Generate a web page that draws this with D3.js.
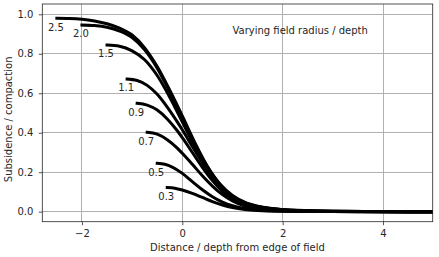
<!DOCTYPE html>
<html>
<head>
<meta charset="utf-8">
<script src="https://cdn.jsdelivr.net/npm/d3@7"></script>
<style>
  body { margin: 0; background: #fff; }
  svg text { font-family: "DejaVu Sans", sans-serif; fill: #262626; }
</style>
</head>
<body>
<svg id="chart"></svg>
<script>
const width = 439;
const height = 257;
const margin = { top: 4, right: 6.3, bottom: 35.3, left: 42.3 };
const innerW = width - margin.left - margin.right;
const innerH = height - margin.top - margin.bottom;

// Field radius / depth of each curve, and the label drawn next to it.
const radii = [2.5, 2.0, 1.5, 1.1, 0.9, 0.7, 0.5, 0.3];
const radiusLabels = ["2.5", "2.0", "1.5", "1.1", "0.9", "0.7", "0.5", "0.3"];

// Subsidence / compaction profiles, [distance / depth, value].
const curve25 = [[-2.5, 0.980], [-2.25, 0.979], [-2.0, 0.975], [-1.75, 0.966], [-1.5, 0.952], [-1.25, 0.93], [-1.0, 0.895], [-0.75, 0.83], [-0.5, 0.735], [-0.25, 0.615], [0, 0.485], [0.25, 0.35], [0.5, 0.23], [0.75, 0.14], [1.0, 0.082], [1.25, 0.047], [1.5, 0.028], [1.75, 0.017], [2.0, 0.011], [2.5, 0.005], [3.0, 0.002], [4.0, 0.0005], [5.0, 0.0002]];
const curve20 = [[-2.0, 0.946], [-1.75, 0.943], [-1.5, 0.934], [-1.25, 0.915], [-1.0, 0.882], [-0.75, 0.82], [-0.5, 0.727], [-0.25, 0.607], [0, 0.478], [0.25, 0.345], [0.5, 0.227], [0.75, 0.138], [1.0, 0.08], [1.25, 0.046], [1.5, 0.027], [1.75, 0.016], [2.0, 0.01], [2.5, 0.0045], [3.0, 0.002], [4.0, 0.0005], [5.0, 0.0002]];
const curve15 = [[-1.5, 0.844], [-1.25, 0.838], [-1.0, 0.815], [-0.75, 0.77], [-0.5, 0.69], [-0.25, 0.58], [0, 0.455], [0.25, 0.33], [0.5, 0.218], [0.75, 0.132], [1.0, 0.076], [1.25, 0.043], [1.5, 0.025], [1.75, 0.015], [2.0, 0.009], [2.5, 0.004], [3.0, 0.0018], [4.0, 0.0005], [5.0, 0.0002]];
const curve11 = [[-1.1, 0.672], [-0.9, 0.665], [-0.7, 0.64], [-0.5, 0.595], [-0.3, 0.53], [-0.1, 0.455], [0, 0.415], [0.2, 0.33], [0.4, 0.248], [0.6, 0.172], [0.8, 0.112], [1.0, 0.069], [1.25, 0.037], [1.5, 0.02], [1.75, 0.012], [2.0, 0.007], [2.5, 0.003], [3.0, 0.0013], [4.0, 0.0004], [5.0, 0.0001]];
const curve09 = [[-0.9, 0.549], [-0.7, 0.54], [-0.5, 0.515], [-0.3, 0.47], [-0.1, 0.41], [0, 0.375], [0.2, 0.30], [0.4, 0.225], [0.6, 0.158], [0.8, 0.104], [1.0, 0.064], [1.25, 0.034], [1.5, 0.018], [1.75, 0.011], [2.0, 0.006], [2.5, 0.0027], [3.0, 0.0012], [4.0, 0.0003], [5.0, 0.0001]];
const curve07 = [[-0.7, 0.402], [-0.5, 0.393], [-0.3, 0.365], [-0.1, 0.322], [0, 0.296], [0.2, 0.24], [0.4, 0.182], [0.6, 0.13], [0.8, 0.087], [1.0, 0.055], [1.25, 0.029], [1.5, 0.016], [1.75, 0.009], [2.0, 0.005], [2.5, 0.0022], [3.0, 0.001], [4.0, 0.0003], [5.0, 0.0001]];
const curve05 = [[-0.5, 0.245], [-0.35, 0.24], [-0.2, 0.226], [0, 0.194], [0.2, 0.152], [0.4, 0.111], [0.6, 0.076], [0.8, 0.049], [1.0, 0.03], [1.25, 0.016], [1.5, 0.009], [1.75, 0.005], [2.0, 0.003], [2.5, 0.0014], [3.0, 0.0007], [4.0, 0.0002], [5.0, 0.0001]];
const curve03 = [[-0.3, 0.122], [-0.15, 0.119], [0, 0.110], [0.2, 0.093], [0.4, 0.072], [0.6, 0.051], [0.8, 0.034], [1.0, 0.021], [1.25, 0.011], [1.5, 0.006], [1.75, 0.0035], [2.0, 0.002], [2.5, 0.001], [3.0, 0.0005], [4.0, 0.0001], [5.0, 0.0001]];
const curves = [curve25, curve20, curve15, curve11, curve09, curve07, curve05, curve03];

const xTicks = [-2, 0, 2, 4];
const yTicks = [0.0, 0.2, 0.4, 0.6, 0.8, 1.0];
const xLabel = "Distance / depth from edge of field";
const yLabel = "Subsidence / compaction";
const note = "Varying field radius / depth";

const svg = d3.select("#chart").attr("width", width).attr("height", height);

const x = d3
  .scaleLinear()
  .domain([-2.79, 4.99])
  .range([margin.left, width - margin.right]);
const y = d3
  .scaleLinear()
  .domain([-0.0507, 1.0522])
  .range([height - margin.bottom, margin.top]);

// Grid drawn as 1px filled rects on whole pixels.
const grid = svg.append("g").attr("fill", "#b0b0b0");
grid
  .selectAll("rect.gx")
  .data(xTicks)
  .join("rect")
  .attr("class", "gx")
  .attr("x", d => Math.floor(x(d)))
  .attr("y", Math.round(margin.top))
  .attr("width", 1)
  .attr("height", Math.round(innerH));
grid
  .selectAll("rect.gy")
  .data(yTicks)
  .join("rect")
  .attr("class", "gy")
  .attr("x", Math.round(margin.left))
  .attr("y", d => Math.floor(y(d)))
  .attr("width", Math.round(innerW))
  .attr("height", 1);

// Axes, matplotlib style: short outward ticks.
const xAxis = svg
  .append("g")
  .attr("transform", `translate(0, ${height - margin.bottom})`)
  .call(d3.axisBottom(x).tickValues(xTicks).tickFormat(d => (d < 0 ? "\u2212" + -d : d)).tickSize(3.5).tickPadding(4.5));
const yAxis = svg
  .append("g")
  .attr("transform", `translate(${margin.left}, 0)`)
  .call(d3.axisLeft(y).tickValues(yTicks).tickFormat(d3.format(".1f")).tickSize(3.5).tickPadding(5.5));
[xAxis, yAxis].forEach(a => {
  a.select(".domain").remove();
  a.selectAll("text").attr("font-size", 10).attr("fill", "#262626");
  a.selectAll("line").attr("stroke", "#262626").attr("stroke-width", 0.8);
});

// Curves, clipped to the plot area.
svg
  .append("clipPath")
  .attr("id", "plotClip")
  .append("rect")
  .attr("x", margin.left)
  .attr("y", margin.top)
  .attr("width", innerW)
  .attr("height", innerH);

const line = d3
  .line()
  .x(d => x(d[0]))
  .y(d => y(d[1]))
  .curve(d3.curveMonotoneX);

svg
  .append("g")
  .attr("clip-path", "url(#plotClip)")
  .selectAll("path")
  .data(curves)
  .join("path")
  .attr("d", line)
  .attr("fill", "none")
  .attr("stroke", "#000")
  .attr("stroke-width", 3)
  .attr("stroke-linecap", "square")
  .attr("stroke-linejoin", "round");

// Radius labels just below the start of each curve.
svg
  .append("g")
  .selectAll("text")
  .data(radii)
  .join("text")
  .attr("x", (d, i) => x(curves[i][0][0] - 0.02))
  .attr("y", (d, i) => y(curves[i][0][1] - 0.045))
  .attr("text-anchor", "middle")
  .attr("dominant-baseline", "central")
  .attr("font-size", 10)
  .text((d, i) => radiusLabels[i]);

svg
  .append("text")
  .attr("x", x(1.0))
  .attr("y", y(0.9))
  .attr("font-size", 10)
  .text(note);

// Frame
svg
  .append("rect")
  .attr("x", margin.left)
  .attr("y", margin.top)
  .attr("width", innerW)
  .attr("height", innerH)
  .attr("fill", "none")
  .attr("stroke", "#262626")
  .attr("stroke-width", 0.8);

svg
  .append("text")
  .attr("x", margin.left + innerW / 2)
  .attr("y", 251)
  .attr("text-anchor", "middle")
  .attr("font-size", 10)
  .text(xLabel);

svg
  .append("text")
  .attr("transform", `translate(12, ${margin.top + innerH / 2 + 6.5}) rotate(-90)`)
  .attr("text-anchor", "middle")
  .attr("font-size", 10)
  .text(yLabel);
</script>
</body>
</html>
